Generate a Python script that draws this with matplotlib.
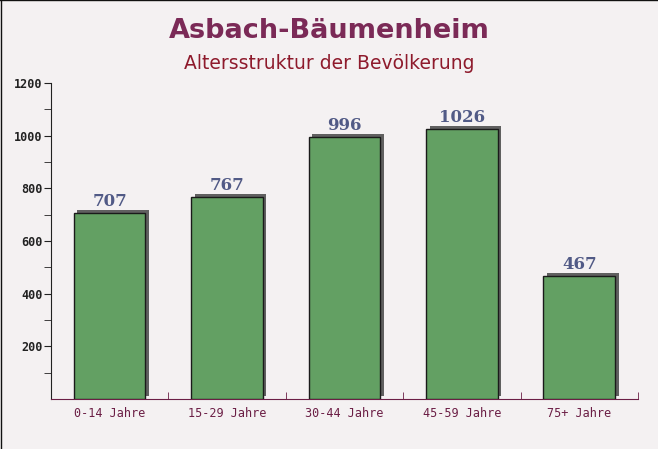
import numpy as np
import matplotlib.pyplot as plt
from matplotlib.lines import Line2D
from matplotlib.transforms import ScaledTranslation

categories = ["0-14 Jahre", "15-29 Jahre", "30-44 Jahre", "45-59 Jahre", "75+ Jahre"]
values = [707, 767, 996, 1026, 467]

fig = plt.figure(figsize=(6.58, 4.49), dpi=100)
fig.patch.set_facecolor("#f4f1f2")
ax = fig.add_axes([0.0775, 0.1114, 0.892, 0.7038])
ax.set_facecolor("none")

x = np.arange(len(categories))
w = 0.61

# shadow behind each bar (offset right/up by a few pixels)
shadow = ax.transData + ScaledTranslation(3.5 / 100, 3 / 100, fig.dpi_scale_trans)
ax.bar(x, values, width=w, color="#606060", transform=shadow, zorder=2)
ax.bar(x, values, width=w, color="#63a063", edgecolor="#1a1a1a", linewidth=1.0, zorder=3)

for xi, v in zip(x, values):
    ax.text(xi, v + 11, str(v), ha="center", va="bottom", family="DejaVu Serif",
            fontsize=12, fontweight="bold", color="#515a86", zorder=4)

ax.set_xlim(-0.5, len(categories) - 0.5)
ax.set_ylim(0, 1200)
ax.set_yticks(np.arange(200, 1201, 200))
ax.set_yticks(np.arange(100, 1200, 200), minor=True)
ax.set_xticks(x)
ax.set_xticklabels(categories, family="DejaVu Sans Mono", fontsize=8.5, color="#6b1e45")
ax.set_xticks(np.arange(-0.5, len(categories)), minor=True)
ax.tick_params(axis="x", which="major", length=0, pad=6)
ax.tick_params(axis="x", which="minor", direction="in", length=5, color="#6b1e45")
ax.tick_params(axis="y", which="both", direction="out", length=5, color="#222222", pad=1)
for lab in ax.get_yticklabels():
    lab.set_family("DejaVu Sans Mono")
    lab.set_fontweight("bold")
    lab.set_fontsize(8.5)
    lab.set_color("#222222")

ax.spines["top"].set_visible(False)
ax.spines["right"].set_visible(False)
ax.spines["left"].set_color("#222222")
ax.spines["bottom"].set_color("#6b1e45")

fig.text(0.5, 0.932, "Asbach-Bäumenheim", ha="center", va="center", fontsize=19.5,
         fontweight="bold", color="#7b2a57")
fig.text(0.5, 0.858, "Altersstruktur der Bevölkerung", ha="center", va="center",
         fontsize=13.5, color="#8e1a2c")

# thin frame on top and left edge
fig.add_artist(Line2D([0, 1], [0.999, 0.999], transform=fig.transFigure, color="#111111", lw=1))
fig.add_artist(Line2D([0.001, 0.001], [0, 1], transform=fig.transFigure, color="#111111", lw=1))

fig.savefig("out.png", dpi=100, facecolor=fig.get_facecolor())
